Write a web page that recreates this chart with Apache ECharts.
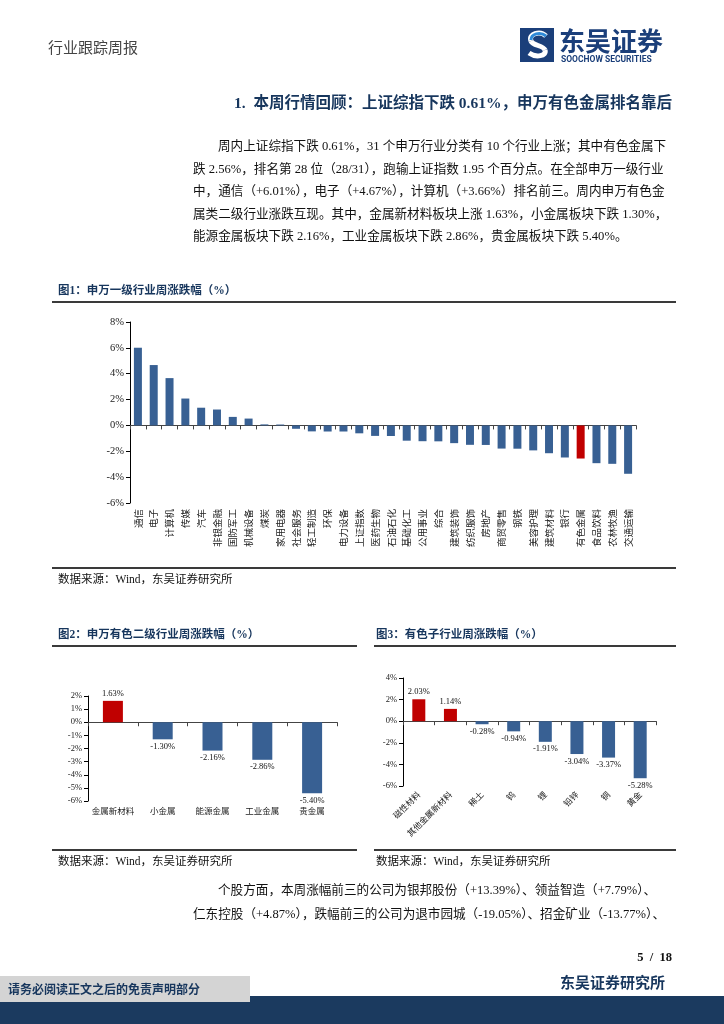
<!DOCTYPE html>
<html><head><meta charset="utf-8">
<script src="https://cdn.jsdelivr.net/npm/echarts@6/dist/echarts.min.js"></script>
<style>html,body{margin:0;padding:0;background:#fff;}#c{width:724px;height:1024px;}</style>
</head><body><div id="c"></div>
<script>
// ---- data ----
const cat1 = ['通信','电子','计算机','传媒','汽车','非银金融','国防军工','机械设备','煤炭','家用电器','社会服务','轻工制造','环保','电力设备','上证指数','医药生物','石油石化','基础化工','公用事业','综合','建筑装饰','纺织服饰','房地产','商贸零售','钢铁','美容护理','建筑材料','银行','有色金属','食品饮料','农林牧渔','交通运输'];
const val1 = [6.01,4.67,3.66,2.08,1.37,1.23,0.66,0.53,0.08,0.07,-0.26,-0.46,-0.47,-0.47,-0.61,-0.81,-0.82,-1.18,-1.22,-1.23,-1.37,-1.50,-1.51,-1.79,-1.80,-1.93,-2.15,-2.48,-2.56,-2.92,-2.97,-3.74];
const highlight1 = '有色金属';
const ticks1 = [-6,-4,-2,0,2,4,6,8];

const cat2 = ['金属新材料','小金属','能源金属','工业金属','贵金属'];
const val2 = [1.63,-1.30,-2.16,-2.86,-5.40];
const ticks2 = [-6,-5,-4,-3,-2,-1,0,1,2];

const cat3 = ['磁性材料','其他金属新材料','稀土','钨','锂','铅锌','铜','黄金'];
const val3 = [2.03,1.14,-0.28,-0.94,-1.91,-3.04,-3.37,-5.28];
const ticks3 = [-6,-4,-2,0,2,4];

// ---- styles ----
const BLUE = '#386093', RED = '#C00000', NAVY = '#17365D';
const SERIF = "'Liberation Serif','Noto Sans CJK SC',serif";
const CJK = "'Noto Sans CJK SC','Liberation Serif',serif";

const chart = echarts.init(document.getElementById('c'), null, {renderer:'canvas'});

function yAx(grid, ticks){
  return {type:'value', gridIndex:grid, min:ticks[0], max:ticks[ticks.length-1], interval:ticks[1]-ticks[0],
    axisLine:{show:true, lineStyle:{color:'#000', width:1}},
    axisTick:{show:true, length:4, lineStyle:{color:'#000'}},
    splitLine:{show:false},
    axisLabel:{formatter:'{value}%', fontFamily:SERIF, fontSize:grid===0?10.5:8.5, color:'#222', margin:6}};
}
function xAx(grid, cats, margin, rot, fs){
  return {type:'category', gridIndex:grid, data:cats,
    axisLine:{show:true, onZero:true, lineStyle:{color:'#444', width:1.2}},
    axisTick:{show:true, length:4, lineStyle:{color:'#444'}},
    axisLabel:{interval:0, rotate:rot, margin:margin, fontFamily:CJK, fontSize:fs, color:'#222'}};
}
function labelled(vals){
  return vals.map(v => ({value:v, label:{show:true, position: v>=0?'top':'bottom', distance:3,
    formatter: p => p.value.toFixed(2)+'%', fontFamily:SERIF, fontSize:8.5, color:'#111'}}));
}

const hline = (x1,x2,y,w) => ({type:'line', shape:{x1:x1,y1:y,x2:x2,y2:y}, style:{stroke:'#3a3a3a', lineWidth:w||2}});
const txt = (x,y,t,o) => ({type:'text', x:x, y:y, style:Object.assign({text:t, fill:'#111', font:'13px '+SERIF, textVerticalAlign:'middle', textAlign:'left'}, o||{})});
const bz = (a,b,c,d,col,w) => ({type:'bezierCurve', shape:{x1:a[0],y1:a[1],cpx1:b[0],cpy1:b[1],cpx2:c[0],cpy2:c[1],x2:d[0],y2:d[1]}, style:{stroke:col, lineWidth:w, fill:null}});

const para1 = [
  ['周内上证综指下跌 0.61%，31 个申万行业分类有 10 个行业上涨；其中有色金属下', 218, 147],
  ['跌 2.56%，排名第 28 位（28/31），跑输上证指数 1.95 个百分点。在全部申万一级行业', 193, 170],
  ['中，通信（+6.01%），电子（+4.67%），计算机（+3.66%）排名前三。周内申万有色金', 193, 192],
  ['属类二级行业涨跌互现。其中，金属新材料板块上涨 1.63%，小金属板块下跌 1.30%，', 193, 215],
  ['能源金属板块下跌 2.16%，工业金属板块下跌 2.86%，贵金属板块下跌 5.40%。', 193, 237]
];
const para2 = [
  ['个股方面，本周涨幅前三的公司为银邦股份（+13.39%）、领益智造（+7.79%）、', 218, 891],
  ['仁东控股（+4.87%），跌幅前三的公司为退市园城（-19.05%）、招金矿业（-13.77%）、', 193, 915]
];

const graphics = [
  txt(48, 47, '行业跟踪周报', {font:'15px '+CJK, fill:'#444'}),
  // logo
  {type:'rect', shape:{x:520,y:28,width:34,height:34}, style:{fill:'#1B3F7A'}},
  bz([546,36],[540,30],[528,34],[531,41],'#fff',5),
  bz([531,41],[533,46],[543,45],[545,50],'#fff',5),
  bz([545,50],[547,56],[536,58],[529,53],'#fff',5),
  bz([546,36],[540,31],[531,34],[531,40],'#2F8AD8',3),
  txt(559, 41, '东吴证券', {font:'bold 26px '+CJK, fill:'#1B3F7A'}),
  txt(561, 60, 'SOOCHOW SECURITIES', {font:'bold 8.5px Roboto', fill:'#1B3F7A'}),
  txt(672, 104, '1.  本周行情回顾：上证综指下跌 0.61%，申万有色金属排名靠后', {font:'bold 15.5px '+SERIF, fill:NAVY, textAlign:'right'}),
  txt(58, 291, '图1：申万一级行业周涨跌幅（%）', {font:'bold 11.5px '+SERIF, fill:NAVY}),
  hline(52, 676, 302, 2),
  hline(52, 676, 568, 2),
  txt(58, 580, '数据来源：Wind，东吴证券研究所', {font:'11.5px '+SERIF}),
  txt(58, 635, '图2：申万有色二级行业周涨跌幅（%）', {font:'bold 11.5px '+SERIF, fill:NAVY}),
  txt(376, 635, '图3：有色子行业周涨跌幅（%）', {font:'bold 11.5px '+SERIF, fill:NAVY}),
  hline(52, 357, 646, 2), hline(374, 676, 646, 2),
  hline(52, 357, 850, 2), hline(374, 676, 850, 2),
  txt(58, 862, '数据来源：Wind，东吴证券研究所', {font:'11.5px '+SERIF}),
  txt(376, 862, '数据来源：Wind，东吴证券研究所', {font:'11.5px '+SERIF}),
  txt(672, 958, '5  /  18', {font:'bold 12.5px '+SERIF, textAlign:'right'}),
  txt(665, 982, '东吴证券研究所', {font:'bold 15px '+CJK, fill:NAVY, textAlign:'right'}),
  {type:'rect', shape:{x:0,y:996,width:724,height:28}, style:{fill:'#1B3A5F'}},
  {type:'rect', shape:{x:0,y:976,width:250,height:26}, style:{fill:'#D4D4D4'}},
  txt(8, 989, '请务必阅读正文之后的免责声明部分', {font:'bold 12px '+CJK, fill:NAVY})
];
para1.concat(para2).forEach(p => graphics.push(txt(p[1], p[2], p[0], {font:'12.6px '+SERIF})));

chart.setOption({
  animation:false,
  grid:[
    {left:130, top:322, width:506, height:181},
    {left:88, top:696, width:249, height:105},
    {left:403, top:678, width:253, height:108}
  ],
  xAxis:[ xAx(0, cat1, 6, 90, 9.5), xAx(1, cat2, 6, 0, 8.5), xAx(2, cat3, 7, 45, 8.5) ],
  yAxis:[ yAx(0, ticks1), yAx(1, ticks2), yAx(2, ticks3) ],
  series:[
    {type:'bar', xAxisIndex:0, yAxisIndex:0, data:val1, barWidth:8,
      itemStyle:{color: p => cat1[p.dataIndex]===highlight1 ? RED : BLUE}},
    {type:'bar', xAxisIndex:1, yAxisIndex:1, data:labelled(val2), barWidth:20,
      itemStyle:{color: p => p.value>=0 ? RED : BLUE}},
    {type:'bar', xAxisIndex:2, yAxisIndex:2, data:labelled(val3), barWidth:13,
      itemStyle:{color: p => p.value>=0 ? RED : BLUE}}
  ],
  graphic:{elements:graphics}
});
</script></body></html>
